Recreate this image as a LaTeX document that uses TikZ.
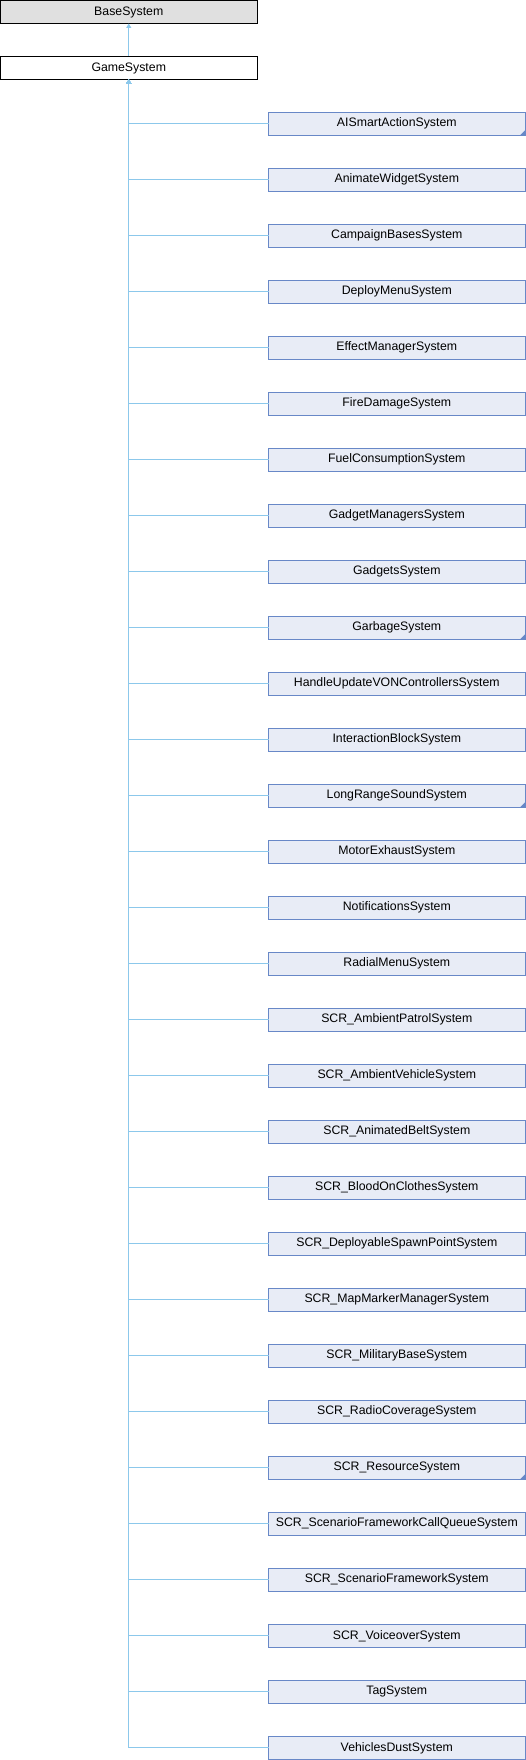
\documentclass[tikz,border=0pt]{standalone}
\usepackage{fontspec}
\setmainfont{Liberation Sans}
\usetikzlibrary{calc}
\usetikzlibrary{arrows.meta}

\definecolor{edgeblue}{RGB}{140,200,235}
\definecolor{boxline}{RGB}{104,136,199}
\definecolor{boxfill}{RGB}{232,236,246}
\definecolor{basefill}{RGB}{224,224,224}

\begin{document}
\begin{tikzpicture}[x=1pt,y=-1pt,
    classnode/.style={draw,line width=1pt,minimum width=256.5pt,minimum height=23pt,
        inner sep=0pt,outer sep=0pt,font=\fontsize{12.3}{14}\selectfont},
    basenode/.style={classnode,fill=basefill,draw=black},
    gamenode/.style={classnode,fill=white,draw=black},
    childnode/.style={classnode,fill=boxfill,draw=boxline},
    edge/.style={draw=edgeblue,line width=1pt,{Triangle[length=4.5pt,width=5pt]}-}]
\useasboundingbox (0,0) rectangle (526,1760);

\coordinate (b) at (128.75, 12);
\coordinate (g) at (128.75, 68);

\newcommand{\childbox}[3]{
    \node[childnode] (#1) at (396.8, {123.8+56*#2}) {#3};
    \draw[edge] (game.south) |- (#1.west);
}

\newcommand{\morecorner}[1]{
    \fill[boxline] ($(#1.south east)+(-5,0)$)--(#1.south east)--($(#1.south east)+(0,-5)$)--cycle;
}

\node[basenode] (base) at (b) {BaseSystem};
\node[gamenode] (game) at (g) {GameSystem};
\draw[edge] (base.south) -- (game.north);

\childbox{aismart}{0}{AISmartActionSystem}
\childbox{animwidget}{1}{AnimateWidgetSystem}
\childbox{campbases}{2}{CampaignBasesSystem}
\childbox{deploymenu}{3}{DeployMenuSystem}
\childbox{effectmgr}{4}{EffectManagerSystem}
\childbox{firedmg}{5}{FireDamageSystem}
\childbox{fuelcons}{6}{FuelConsumptionSystem}
\childbox{gadgetmgrs}{7}{GadgetManagersSystem}
\childbox{gadgets}{8}{GadgetsSystem}
\childbox{garbage}{9}{GarbageSystem}
\childbox{handlevon}{10}{HandleUpdateVONControllersSystem}
\childbox{interblock}{11}{InteractionBlockSystem}
\childbox{longrange}{12}{LongRangeSoundSystem}
\childbox{motorexh}{13}{MotorExhaustSystem}
\childbox{notif}{14}{NotificationsSystem}
\childbox{radialmenu}{15}{RadialMenuSystem}
\childbox{ambpatrol}{16}{SCR\_AmbientPatrolSystem}
\childbox{ambvehicle}{17}{SCR\_AmbientVehicleSystem}
\childbox{animbelt}{18}{SCR\_AnimatedBeltSystem}
\childbox{bloodcloth}{19}{SCR\_BloodOnClothesSystem}
\childbox{deployspawn}{20}{SCR\_DeployableSpawnPointSystem}
\childbox{mapmarker}{21}{SCR\_MapMarkerManagerSystem}
\childbox{milbase}{22}{SCR\_MilitaryBaseSystem}
\childbox{radiocov}{23}{SCR\_RadioCoverageSystem}
\childbox{resource}{24}{SCR\_ResourceSystem}
\childbox{scencallq}{25}{SCR\_ScenarioFrameworkCallQueueSystem}
\childbox{scenframe}{26}{SCR\_ScenarioFrameworkSystem}
\childbox{voiceover}{27}{SCR\_VoiceoverSystem}
\childbox{tagsys}{28}{TagSystem}
\childbox{vehdust}{29}{VehiclesDustSystem}

% boxes with more children below them
\morecorner{aismart}
\morecorner{garbage}
\morecorner{longrange}
\morecorner{resource}
\end{tikzpicture}
\end{document}
